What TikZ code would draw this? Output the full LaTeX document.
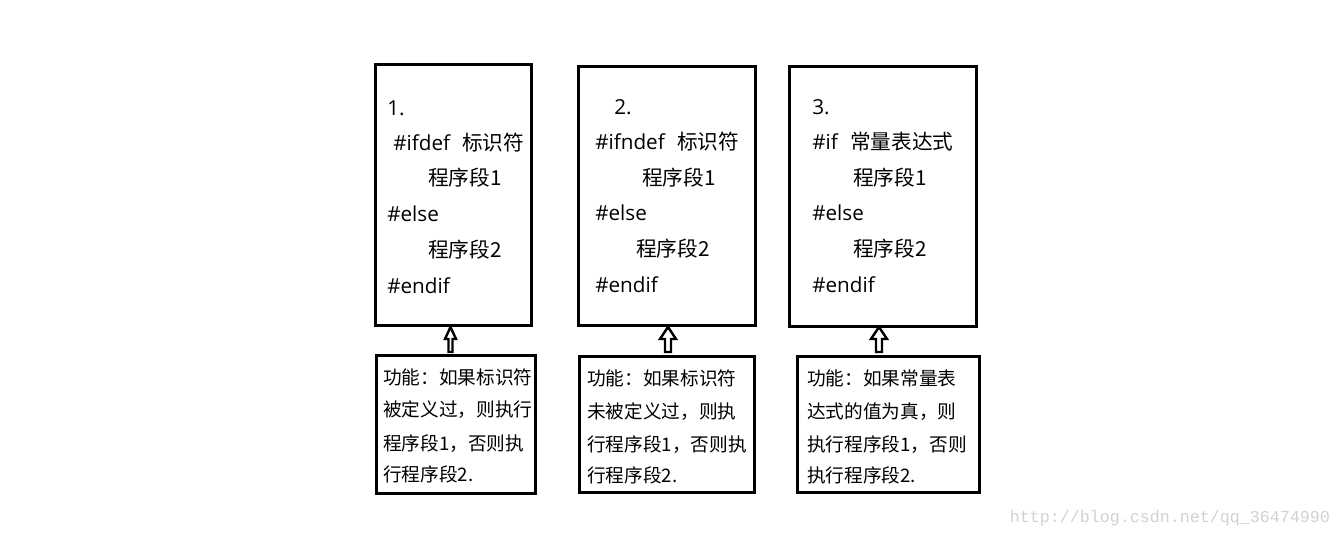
\documentclass[tikz,border=0pt]{standalone}
\usepackage{fontspec}
\setmainfont{Noto Sans CJK SC}
\newfontfamily\wmfont{Liberation Mono}
\newfontfamily\latfont{Open Sans}
\usetikzlibrary{calc,fit}
\newcommand\myblockup[3]{%
  \draw[blockarr] ($(#1)+(-#3,0)$) -- ($(#1)+(-#3,-13)$) -- ($(#1)+(-#2,-13)$)
    -- ($(#1)+(0,-25)$) -- ($(#1)+(#2,-13)$) -- ($(#1)+(#3,-13)$) -- ($(#1)+(#3,0)$) -- cycle;}
\begin{document}
\begin{tikzpicture}[x=0.75pt,y=-0.75pt,
  box/.style={draw=black, line width=2.3pt, inner sep=0pt},
  code/.style={anchor=base west, inner sep=0pt, font=\fontsize{15.5pt}{18pt}\selectfont},
  lat/.style={code, font=\latfont\fontsize{15.5pt}{18pt}\selectfont},
  desc/.style={anchor=base west, inner sep=0pt, font=\fontsize{14pt}{17pt}\selectfont},
  blockarr/.style={draw=black, line width=1.8pt, fill=white, line join=miter},
  wm/.style={anchor=center, inner sep=0pt, text=black!18, font=\wmfont\fontsize{12.5pt}{14pt}\selectfont}]
\useasboundingbox (0,0) rectangle (1342,538);
% top boxes
\node[box, fit={(375.5,64.5) (531.5,325.5)}] (t1) {};
\node[box, fit={(578.5,66.5) (755.5,325.5)}] (t2) {};
\node[box, fit={(789.5,66.5) (976.5,326.5)}] (t3) {};
% bottom boxes
\node[box, fit={(376.5,355.5) (535.5,493.5)}] (b1) {};
\node[box, fit={(579.5,356.5) (754.5,492.5)}] (b2) {};
\node[box, fit={(797.5,356.5) (979.5,492.5)}] (b3) {};
% arrows
\coordinate (a1) at (450.5,352);
\coordinate (a2) at (668,352);
\coordinate (a3) at (879,352);
\myblockup{a1}{5.5}{2}
\myblockup{a2}{8}{3}
\myblockup{a3}{8}{3}
% box 1 code
\node[lat] (t1l1) at (387,116) {1.};
\node[lat] (t1l2) at (393,151) {\#ifdef};
\node[code] (t1l2b) at (462,151) {标识符};
\node[code] (t1l3) at (428,186) {程序段1};
\node[lat] (t1l4) at (387,222) {\#else};
\node[code] (t1l5) at (428,258) {程序段2};
\node[lat] (t1l6) at (387,294) {\#endif};
% box 2 code
\node[lat] (t2l1) at (614,115) {2.};
\node[lat] (t2l2) at (595,150) {\#ifndef};
\node[code] (t2l2b) at (677,150) {标识符};
\node[code] (t2l3) at (642,186) {程序段1};
\node[lat] (t2l4) at (595,221) {\#else};
\node[code] (t2l5) at (636,257) {程序段2};
\node[lat] (t2l6) at (595,292) {\#endif};
% box 3 code
\node[lat] (t3l1) at (812,115) {3.};
\node[lat] (t3l2) at (812,150) {\#if};
\node[code] (t3l2b) at (850,150) {常量表达式};
\node[code] (t3l3) at (853,186) {程序段1};
\node[lat] (t3l4) at (812,221) {\#else};
\node[code] (t3l5) at (853,257) {程序段2};
\node[lat] (t3l6) at (812,292) {\#endif};
% descriptions
\node[desc] (b1l1) at (383,384) {功能：如果标识符};
\node[desc] (b1l2) at (383,416) {被定义过，则执行};
\node[desc] (b1l3) at (383,450) {程序段1，否则执};
\node[desc] (b1l4) at (383,481) {行程序段2.};
\node[desc] (b2l1) at (587,385) {功能：如果标识符};
\node[desc] (b2l2) at (587,418) {未被定义过，则执};
\node[desc] (b2l3) at (587,451) {行程序段1，否则执};
\node[desc] (b2l4) at (587,482) {行程序段2.};
\node[desc] (b3l1) at (807,385) {功能：如果常量表};
\node[desc] (b3l2) at (807,418) {达式的值为真，则};
\node[desc] (b3l3) at (807,451) {执行程序段1，否则};
\node[desc] (b3l4) at (807,482) {执行程序段2.};
% watermark
\node[wm] (wm) at (1170,518) {http://blog.csdn.net/qq\_36474990};
\end{tikzpicture}
\end{document}
